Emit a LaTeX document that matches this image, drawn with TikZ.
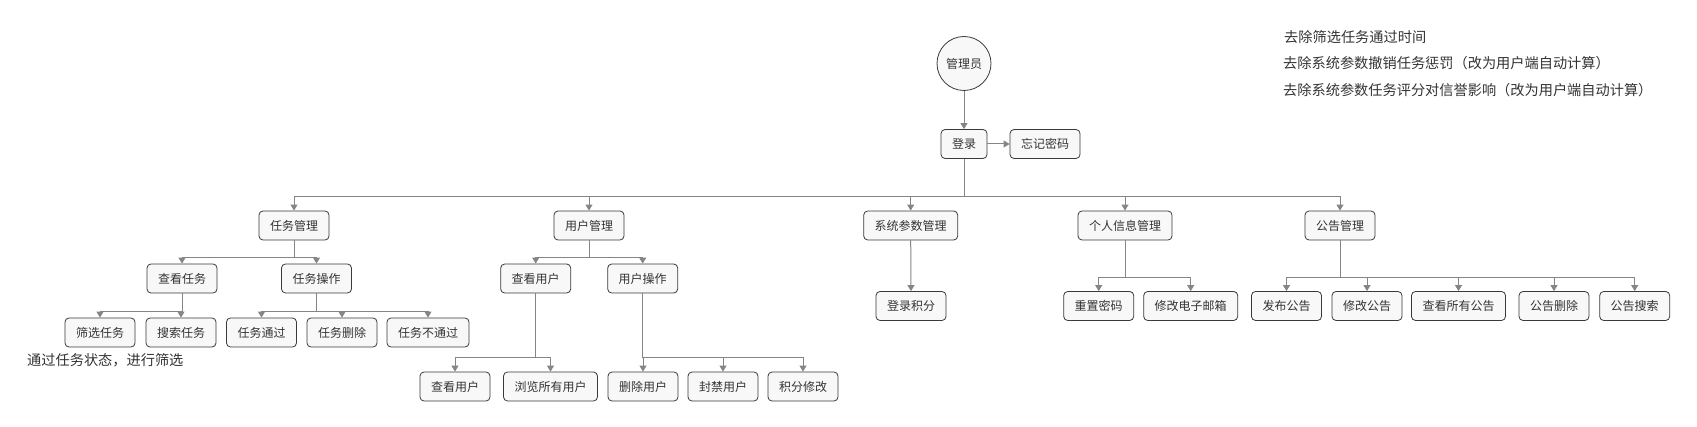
\documentclass[tikz,border=0pt]{standalone}
\usepackage{fontspec}
\usepackage{tikz}
\usetikzlibrary{calc,arrows.meta}
\usepackage{xcolor}
\newfontfamily\cjk{Noto Sans CJK SC}
\definecolor{linegray}{HTML}{858585}
\definecolor{boxline}{HTML}{3A3A3A}
\definecolor{boxfill}{HTML}{F8F8F8}
\definecolor{txtgray}{HTML}{333333}

\begin{document}
\begin{tikzpicture}[x=1pt,y=-1pt,
  box/.style={draw=boxline, fill=boxfill, rounded corners=4pt, line width=0.8pt,
    minimum height=29pt, inner xsep=11pt, inner ysep=0pt,
    font=\cjk\fontsize{12}{14}\selectfont, text=txtgray},
  rolecircle/.style={circle, draw=boxline, fill=boxfill, line width=0.8pt,
    minimum size=54pt, inner sep=0pt, font=\cjk\fontsize{12}{14}\selectfont, text=txtgray},
  arr/.style={draw=linegray, line width=1pt, -{Triangle[width=7pt,length=6pt]}},
  memo/.style={anchor=west, inner sep=0pt, font=\cjk\fontsize{14.2}{16}\selectfont, text=txtgray}]
\useasboundingbox (0,0) rectangle (1697,427);
% top
\node [rolecircle] (admin) at (964,63.5) {管理员};
\node [box, minimum width=45pt] (login) at (964,144) {登录};
\node [box] (forget) at (1045,144) {忘记密码};
\draw [arr] (admin.south) -- (login.north);
\draw [arr] (login.east) -- (forget.west);
% notes
\node [memo] (n1) at (1284,37) {去除筛选任务通过时间};
\node [memo] (n2) at (1283,63.3) {去除系统参数撤销任务惩罚（改为用户端自动计算）};
\node [memo] (n3) at (1283,90) {去除系统参数任务评分对信誉影响（改为用户端自动计算）};
% second level
\node [box] (tm) at (294,225.5) {任务管理};
\node [box] (um) at (589,225.5) {用户管理};
\node [box] (sp) at (910.7,225.5) {系统参数管理};
\node [box] (pi) at (1125,225.5) {个人信息管理};
\node [box] (an) at (1340,225.5) {公告管理};
\foreach \ch in {tm,um,sp,pi,an}
  \draw [arr] (login.south) |- ($(\ch.north)+(0,-14)$) -- (\ch.north);
% task
\node [box] (ck) at (182,278.5) {查看任务};
\node [box] (to) at (316.5,278.5) {任务操作};
\foreach \ch in {ck,to}
  \draw [arr] (tm.south) |- ($(\ch.north)+(0,-6)$) -- (\ch.north);
\node [box] (sx) at (100,332.5) {筛选任务};
\node [box] (ss) at (181,332.5) {搜索任务};
\node [box] (tp) at (261.5,332.5) {任务通过};
\node [box] (td) at (342,332.5) {任务删除};
\node [box] (tf) at (428,332.5) {任务不通过};
\foreach \ch in {sx,ss}
  \draw [arr] (ck.south) |- ($(\ch.north)+(0,-6)$) -- (\ch.north);
\foreach \ch in {tp,td,tf}
  \draw [arr] (to.south) |- ($(\ch.north)+(0,-6)$) -- (\ch.north);
\node [memo] (n4) at (27,360) {通过任务状态，进行筛选};
% user
\node [box] (cu) at (535.7,278.5) {查看用户};
\node [box] (uo) at (642.7,278.5) {用户操作};
\foreach \ch in {cu,uo}
  \draw [arr] (um.south) |- ($(\ch.north)+(0,-6)$) -- (\ch.north);
\node [box] (cu2) at (455,386.5) {查看用户};
\node [box] (all) at (550.5,386.5) {浏览所有用户};
\node [box] (du) at (643,386.5) {删除用户};
\node [box] (bu) at (723,386.5) {封禁用户};
\node [box] (pm) at (803,386.5) {积分修改};
\foreach \ch in {cu2,all}
  \draw [arr] (cu.south) |- ($(\ch.north)+(0,-14)$) -- (\ch.north);
\foreach \ch in {du,bu,pm}
  \draw [arr] (uo.south) |- ($(\ch.north)+(0,-14)$) -- (\ch.north);
% system
\node [box] (lp) at (911,306) {登录积分};
\draw [arr] (sp.south) -- (lp.north);
% personal
\node [box] (rp) at (1098.7,306) {重置密码};
\node [box] (me) at (1190.7,306) {修改电子邮箱};
\foreach \ch in {rp,me}
  \draw [arr] (pi.south) |- ($(\ch.north)+(0,-14)$) -- (\ch.north);
% notice
\node [box] (a1) at (1286.5,306) {发布公告};
\node [box] (a2) at (1367,306) {修改公告};
\node [box] (a3) at (1458.5,306) {查看所有公告};
\node [box] (a4) at (1554,306) {公告删除};
\node [box] (a5) at (1634.7,306) {公告搜索};
\foreach \ch in {a1,a2,a3,a4,a5}
  \draw [arr] (an.south) |- ($(\ch.north)+(0,-14)$) -- (\ch.north);
\end{tikzpicture}
\end{document}
